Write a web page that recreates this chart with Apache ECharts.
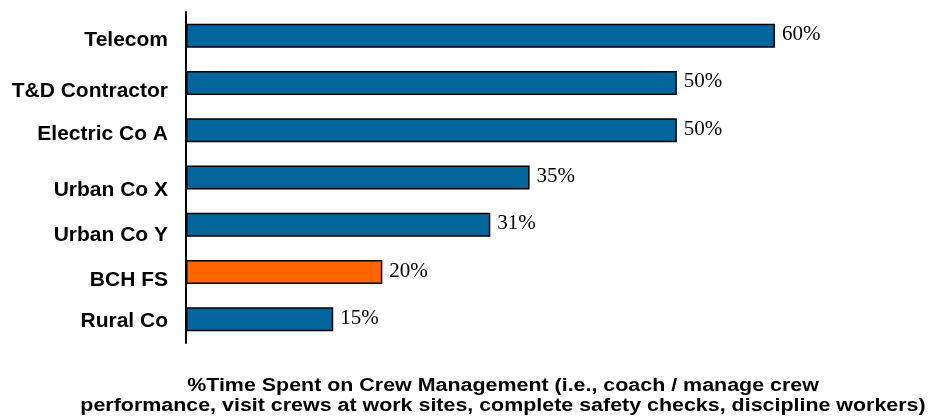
<!DOCTYPE html>
<html>
<head>
<meta charset="utf-8">
<script src="https://cdn.jsdelivr.net/npm/echarts@6/dist/echarts.min.js"></script>
<style>
  html, body { margin: 0; padding: 0; background: #ffffff; }
  #chart { width: 931px; height: 418px; }
</style>
</head>
<body>
<div id="chart"></div>
<script>
// Share of time spent on crew management, by organisation (top to bottom)
const categories = ['Telecom', 'T&D Contractor', 'Electric Co A', 'Urban Co X', 'Urban Co Y', 'BCH FS', 'Rural Co'];
const values = [60, 50, 50, 35, 31, 20, 15];
const highlighted = 'BCH FS';

const titleLines = [
  '%Time Spent on Crew Management (i.e., coach / manage crew',
  'performance, visit crews at work sites, complete safety checks, discipline workers)'
];

const BLUE = '#02659b';
const ORANGE = '#ff6600';

// Category names sit a little below their bars, by a varying amount (px)
const labelDrop = [5, 8, 4, 13, 10, 8, 2];

const chart = echarts.init(document.getElementById('chart'));

const labelFont = {
  fontFamily: 'Liberation Sans, Arial, sans-serif',
  fontWeight: 'bold',
  fontSize: 21,
  color: '#000000'
};

// One rich style per category, each pushed down by its own amount
const labelRich = {};
labelDrop.forEach((d, i) => {
  labelRich['d' + i] = Object.assign({ padding: [d * 2, 0, 0, 0] }, labelFont);
});

// Axis caption below the plot, in a horizontally stretched bold face
const captionFont = {
  fontFamily: 'Liberation Sans, Arial, sans-serif',
  fontWeight: 'bold',
  fontSize: 18
};

chart.setOption({
  animation: false,
  backgroundColor: '#ffffff',
  graphic: titleLines.map((line, i) => ({
    type: 'text',
    x: 503,
    y: 386 + i * 20,
    scaleX: 1.19,
    silent: true,
    style: Object.assign({
      text: line,
      fill: '#000000',
      textAlign: 'center',
      textVerticalAlign: 'middle'
    }, captionFont)
  })),
  grid: {
    left: 186,
    top: 12,
    width: 589,
    height: 331,
    containLabel: false
  },
  xAxis: {
    type: 'value',
    min: 0,
    max: 60,
    show: false
  },
  yAxis: {
    type: 'category',
    inverse: true,
    data: categories,
    axisLine: { show: true, lineStyle: { color: '#000000', width: 2 } },
    axisTick: { show: false },
    axisLabel: Object.assign({
      margin: 18,
      formatter: (name, i) => '{d' + i + '|' + name + '}',
      rich: labelRich
    }, labelFont),
    splitLine: { show: false }
  },
  series: [{
    type: 'bar',
    barWidth: 24,
    data: values.map((v, i) => ({
      value: v,
      itemStyle: { color: categories[i] === highlighted ? ORANGE : BLUE }
    })),
    itemStyle: { borderColor: '#000000', borderWidth: 1.5 },
    label: {
      show: true,
      position: 'right',
      distance: 7,
      offset: [0, -1],
      formatter: p => p.value + '%',
      fontFamily: 'Liberation Serif, serif',
      fontSize: 21,
      color: '#000000'
    }
  }]
});
</script>
</body>
</html>
